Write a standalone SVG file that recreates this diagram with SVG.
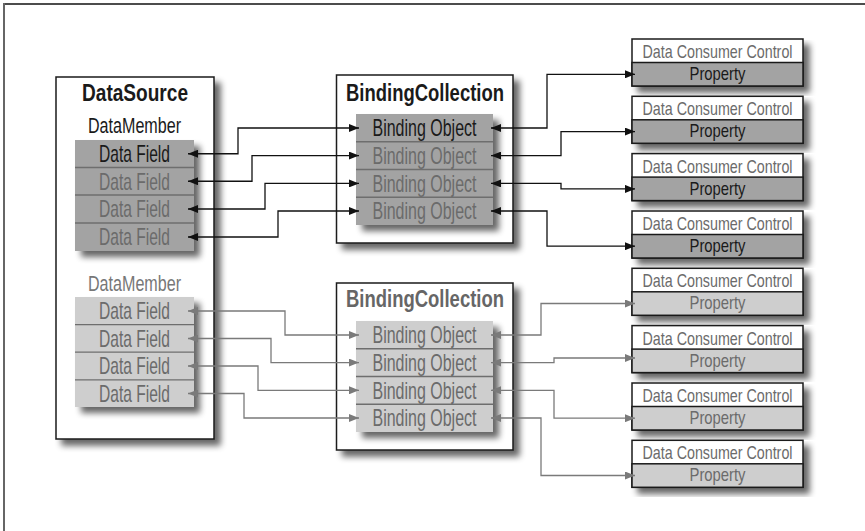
<svg xmlns="http://www.w3.org/2000/svg" width="865" height="531" viewBox="0 0 865 531">
<defs>
<style>
text { font-family: "Liberation Sans", Arial, sans-serif; text-anchor: middle; }
.b { font-weight: bold; font-size: 23px; fill: #1a1a1a; }
.r { font-size: 24px; }
.m { font-size: 22px; }
.s { font-size: 19px; }
.k { fill: #1a1a1a; }
.g { fill: #6b6b6b; }
.box { fill: #fff; stroke: #1a1a1a; stroke-width: 1.5; }
.dark { fill: #a3a3a3; }
.light { fill: #cecece; }
.dv { stroke: #6e6e6e; stroke-width: 1.3; }
.c1 { fill: none; stroke: #111; stroke-width: 1.3; marker-start: url(#ab); marker-end: url(#ab); }
.c2 { fill: none; stroke: #7a7a7a; stroke-width: 1.3; marker-start: url(#ag); marker-end: url(#ag); }
</style>
<filter id="sh" x="-10%" y="-10%" width="130%" height="130%">
<feGaussianBlur in="SourceAlpha" stdDeviation="3"/>
<feOffset dx="6" dy="6"/>
<feComponentTransfer><feFuncA type="linear" slope="0.6"/></feComponentTransfer>
<feMerge><feMergeNode/><feMergeNode in="SourceGraphic"/></feMerge>
</filter>
<marker id="ab" viewBox="0 0 10 8" refX="10" refY="4" markerWidth="10" markerHeight="8" markerUnits="userSpaceOnUse" orient="auto-start-reverse"><path d="M0,0 L10,4 L0,8 z" fill="#111"/></marker>
<marker id="ag" viewBox="0 0 10 8" refX="10" refY="4" markerWidth="10" markerHeight="8" markerUnits="userSpaceOnUse" orient="auto-start-reverse"><path d="M0,0 L10,4 L0,8 z" fill="#7a7a7a"/></marker>
</defs>
<rect width="865" height="531" fill="#fff"/>
<line x1="3" y1="4" x2="865" y2="4" stroke="#111" stroke-width="1.5"/>
<line x1="4" y1="3" x2="4" y2="531" stroke="#666" stroke-width="2"/>

<g id="datasource">
<rect class="box" x="56" y="77" width="158" height="362" filter="url(#sh)"/>
<text class="b" x="135" y="101" textLength="106" lengthAdjust="spacingAndGlyphs">DataSource</text>
<g id="datamember1">
<text class="m k" x="134.5" y="133" textLength="93" lengthAdjust="spacingAndGlyphs">DataMember</text>
<rect class="dark" x="75" y="140" width="119" height="111" filter="url(#sh)"/>
<line class="dv" x1="75" y1="167.5" x2="194" y2="167.5"/>
<line class="dv" x1="75" y1="195" x2="194" y2="195"/>
<line class="dv" x1="75" y1="223" x2="194" y2="223"/>
<text class="r k" x="134.5" y="162" textLength="71" lengthAdjust="spacingAndGlyphs">Data Field</text>
<text class="r g" x="134.5" y="189.5" textLength="71" lengthAdjust="spacingAndGlyphs">Data Field</text>
<text class="r g" x="134.5" y="217" textLength="71" lengthAdjust="spacingAndGlyphs">Data Field</text>
<text class="r g" x="134.5" y="245" textLength="71" lengthAdjust="spacingAndGlyphs">Data Field</text>
</g>
<g id="datamember2">
<text class="m" fill="#777" x="134.5" y="291" textLength="93" lengthAdjust="spacingAndGlyphs">DataMember</text>
<rect class="light" x="75" y="297" width="119" height="110" filter="url(#sh)"/>
<line class="dv" x1="75" y1="324.6" x2="194" y2="324.6"/>
<line class="dv" x1="75" y1="352.2" x2="194" y2="352.2"/>
<line class="dv" x1="75" y1="379.8" x2="194" y2="379.8"/>
<text class="r g" x="134.5" y="319" textLength="71" lengthAdjust="spacingAndGlyphs">Data Field</text>
<text class="r g" x="134.5" y="346.6" textLength="71" lengthAdjust="spacingAndGlyphs">Data Field</text>
<text class="r g" x="134.5" y="374.2" textLength="71" lengthAdjust="spacingAndGlyphs">Data Field</text>
<text class="r g" x="134.5" y="401.8" textLength="71" lengthAdjust="spacingAndGlyphs">Data Field</text>
</g>
</g>

<g id="bindingcollection1">
<rect class="box" x="336.5" y="75" width="176.5" height="168" filter="url(#sh)"/>
<text class="b" x="425" y="101" textLength="158" lengthAdjust="spacingAndGlyphs">BindingCollection</text>
<rect class="dark" x="356" y="114" width="137" height="111" filter="url(#sh)"/>
<line class="dv" x1="356" y1="141.75" x2="493" y2="141.75"/>
<line class="dv" x1="356" y1="169.5" x2="493" y2="169.5"/>
<line class="dv" x1="356" y1="197.25" x2="493" y2="197.25"/>
<text class="r k" x="424.5" y="136" textLength="104" lengthAdjust="spacingAndGlyphs">Binding Object</text>
<text class="r g" x="424.5" y="163.75" textLength="104" lengthAdjust="spacingAndGlyphs">Binding Object</text>
<text class="r g" x="424.5" y="191.5" textLength="104" lengthAdjust="spacingAndGlyphs">Binding Object</text>
<text class="r g" x="424.5" y="219.25" textLength="104" lengthAdjust="spacingAndGlyphs">Binding Object</text>
</g>

<g id="bindingcollection2">
<rect class="box" x="336.5" y="283" width="176.5" height="167" filter="url(#sh)"/>
<text class="b" style="fill:#666" x="425" y="307" textLength="158" lengthAdjust="spacingAndGlyphs">BindingCollection</text>
<rect class="light" x="356" y="321" width="137" height="111" filter="url(#sh)"/>
<line class="dv" x1="356" y1="348.75" x2="493" y2="348.75"/>
<line class="dv" x1="356" y1="376.5" x2="493" y2="376.5"/>
<line class="dv" x1="356" y1="404.25" x2="493" y2="404.25"/>
<text class="r g" x="424.5" y="343" textLength="104" lengthAdjust="spacingAndGlyphs">Binding Object</text>
<text class="r g" x="424.5" y="370.75" textLength="104" lengthAdjust="spacingAndGlyphs">Binding Object</text>
<text class="r g" x="424.5" y="398.5" textLength="104" lengthAdjust="spacingAndGlyphs">Binding Object</text>
<text class="r g" x="424.5" y="426.25" textLength="104" lengthAdjust="spacingAndGlyphs">Binding Object</text>
</g>

<g id="consumer1">
<rect class="box" x="632" y="39" width="171" height="47" filter="url(#sh)"/>
<rect class="dark" x="632" y="62.5" width="171" height="23.5" stroke="#1a1a1a" stroke-width="1.5"/>
<text class="s g" x="717.5" y="58" textLength="150" lengthAdjust="spacingAndGlyphs">Data Consumer Control</text>
<text class="s k" x="717.5" y="80" textLength="56" lengthAdjust="spacingAndGlyphs">Property</text>
</g>
<g id="consumer2">
<rect class="box" x="632" y="96.3" width="171" height="47" filter="url(#sh)"/>
<rect class="dark" x="632" y="119.8" width="171" height="23.5" stroke="#1a1a1a" stroke-width="1.5"/>
<text class="s g" x="717.5" y="115.3" textLength="150" lengthAdjust="spacingAndGlyphs">Data Consumer Control</text>
<text class="s k" x="717.5" y="137.3" textLength="56" lengthAdjust="spacingAndGlyphs">Property</text>
</g>
<g id="consumer3">
<rect class="box" x="632" y="153.6" width="171" height="47" filter="url(#sh)"/>
<rect class="dark" x="632" y="177.1" width="171" height="23.5" stroke="#1a1a1a" stroke-width="1.5"/>
<text class="s g" x="717.5" y="172.6" textLength="150" lengthAdjust="spacingAndGlyphs">Data Consumer Control</text>
<text class="s k" x="717.5" y="194.6" textLength="56" lengthAdjust="spacingAndGlyphs">Property</text>
</g>
<g id="consumer4">
<rect class="box" x="632" y="211" width="171" height="47" filter="url(#sh)"/>
<rect class="dark" x="632" y="234.5" width="171" height="23.5" stroke="#1a1a1a" stroke-width="1.5"/>
<text class="s g" x="717.5" y="230" textLength="150" lengthAdjust="spacingAndGlyphs">Data Consumer Control</text>
<text class="s k" x="717.5" y="252" textLength="56" lengthAdjust="spacingAndGlyphs">Property</text>
</g>
<g id="consumer5">
<rect class="box" x="632" y="268.3" width="171" height="47" filter="url(#sh)"/>
<rect class="light" x="632" y="291.8" width="171" height="23.5" stroke="#1a1a1a" stroke-width="1.5"/>
<text class="s g" x="717.5" y="287.3" textLength="150" lengthAdjust="spacingAndGlyphs">Data Consumer Control</text>
<text class="s g" x="717.5" y="309.3" textLength="56" lengthAdjust="spacingAndGlyphs">Property</text>
</g>
<g id="consumer6">
<rect class="box" x="632" y="325.6" width="171" height="47" filter="url(#sh)"/>
<rect class="light" x="632" y="349.1" width="171" height="23.5" stroke="#1a1a1a" stroke-width="1.5"/>
<text class="s g" x="717.5" y="344.6" textLength="150" lengthAdjust="spacingAndGlyphs">Data Consumer Control</text>
<text class="s g" x="717.5" y="366.6" textLength="56" lengthAdjust="spacingAndGlyphs">Property</text>
</g>
<g id="consumer7">
<rect class="box" x="632" y="383" width="171" height="47" filter="url(#sh)"/>
<rect class="light" x="632" y="406.5" width="171" height="23.5" stroke="#1a1a1a" stroke-width="1.5"/>
<text class="s g" x="717.5" y="402" textLength="150" lengthAdjust="spacingAndGlyphs">Data Consumer Control</text>
<text class="s g" x="717.5" y="424" textLength="56" lengthAdjust="spacingAndGlyphs">Property</text>
</g>
<g id="consumer8">
<rect class="box" x="632" y="440.3" width="171" height="47" filter="url(#sh)"/>
<rect class="light" x="632" y="463.8" width="171" height="23.5" stroke="#1a1a1a" stroke-width="1.5"/>
<text class="s g" x="717.5" y="459.3" textLength="150" lengthAdjust="spacingAndGlyphs">Data Consumer Control</text>
<text class="s g" x="717.5" y="481.3" textLength="56" lengthAdjust="spacingAndGlyphs">Property</text>
</g>

<g id="connectors">
<path class="c1" d="M188,153.75 H238 V128 H359"/>
<path class="c1" d="M188,181.25 H252 V155.6 H359"/>
<path class="c1" d="M188,209 H265 V183.4 H359"/>
<path class="c1" d="M188,237 H278 V211 H359"/>
<path class="c1" d="M491,128 H547 V74.3 H635"/>
<path class="c1" d="M491,155.6 H561 V131.6 H635"/>
<path class="c1" d="M491,183.4 H561 V188.9 H635"/>
<path class="c1" d="M491,211 H547 V246.2 H635"/>
<path class="c2" d="M188,311 H285 V335 H359"/>
<path class="c2" d="M188,338.5 H271 V362.6 H359"/>
<path class="c2" d="M188,366 H258 V390.3 H359"/>
<path class="c2" d="M188,393.5 H244 V418 H359"/>
<path class="c2" d="M491,335 H541 V303.5 H635"/>
<path class="c2" d="M491,362.6 H554 V358 H635"/>
<path class="c2" d="M491,390.3 H554 V418.2 H635"/>
<path class="c2" d="M491,418 H541 V475.5 H635"/>
</g>
</svg>
